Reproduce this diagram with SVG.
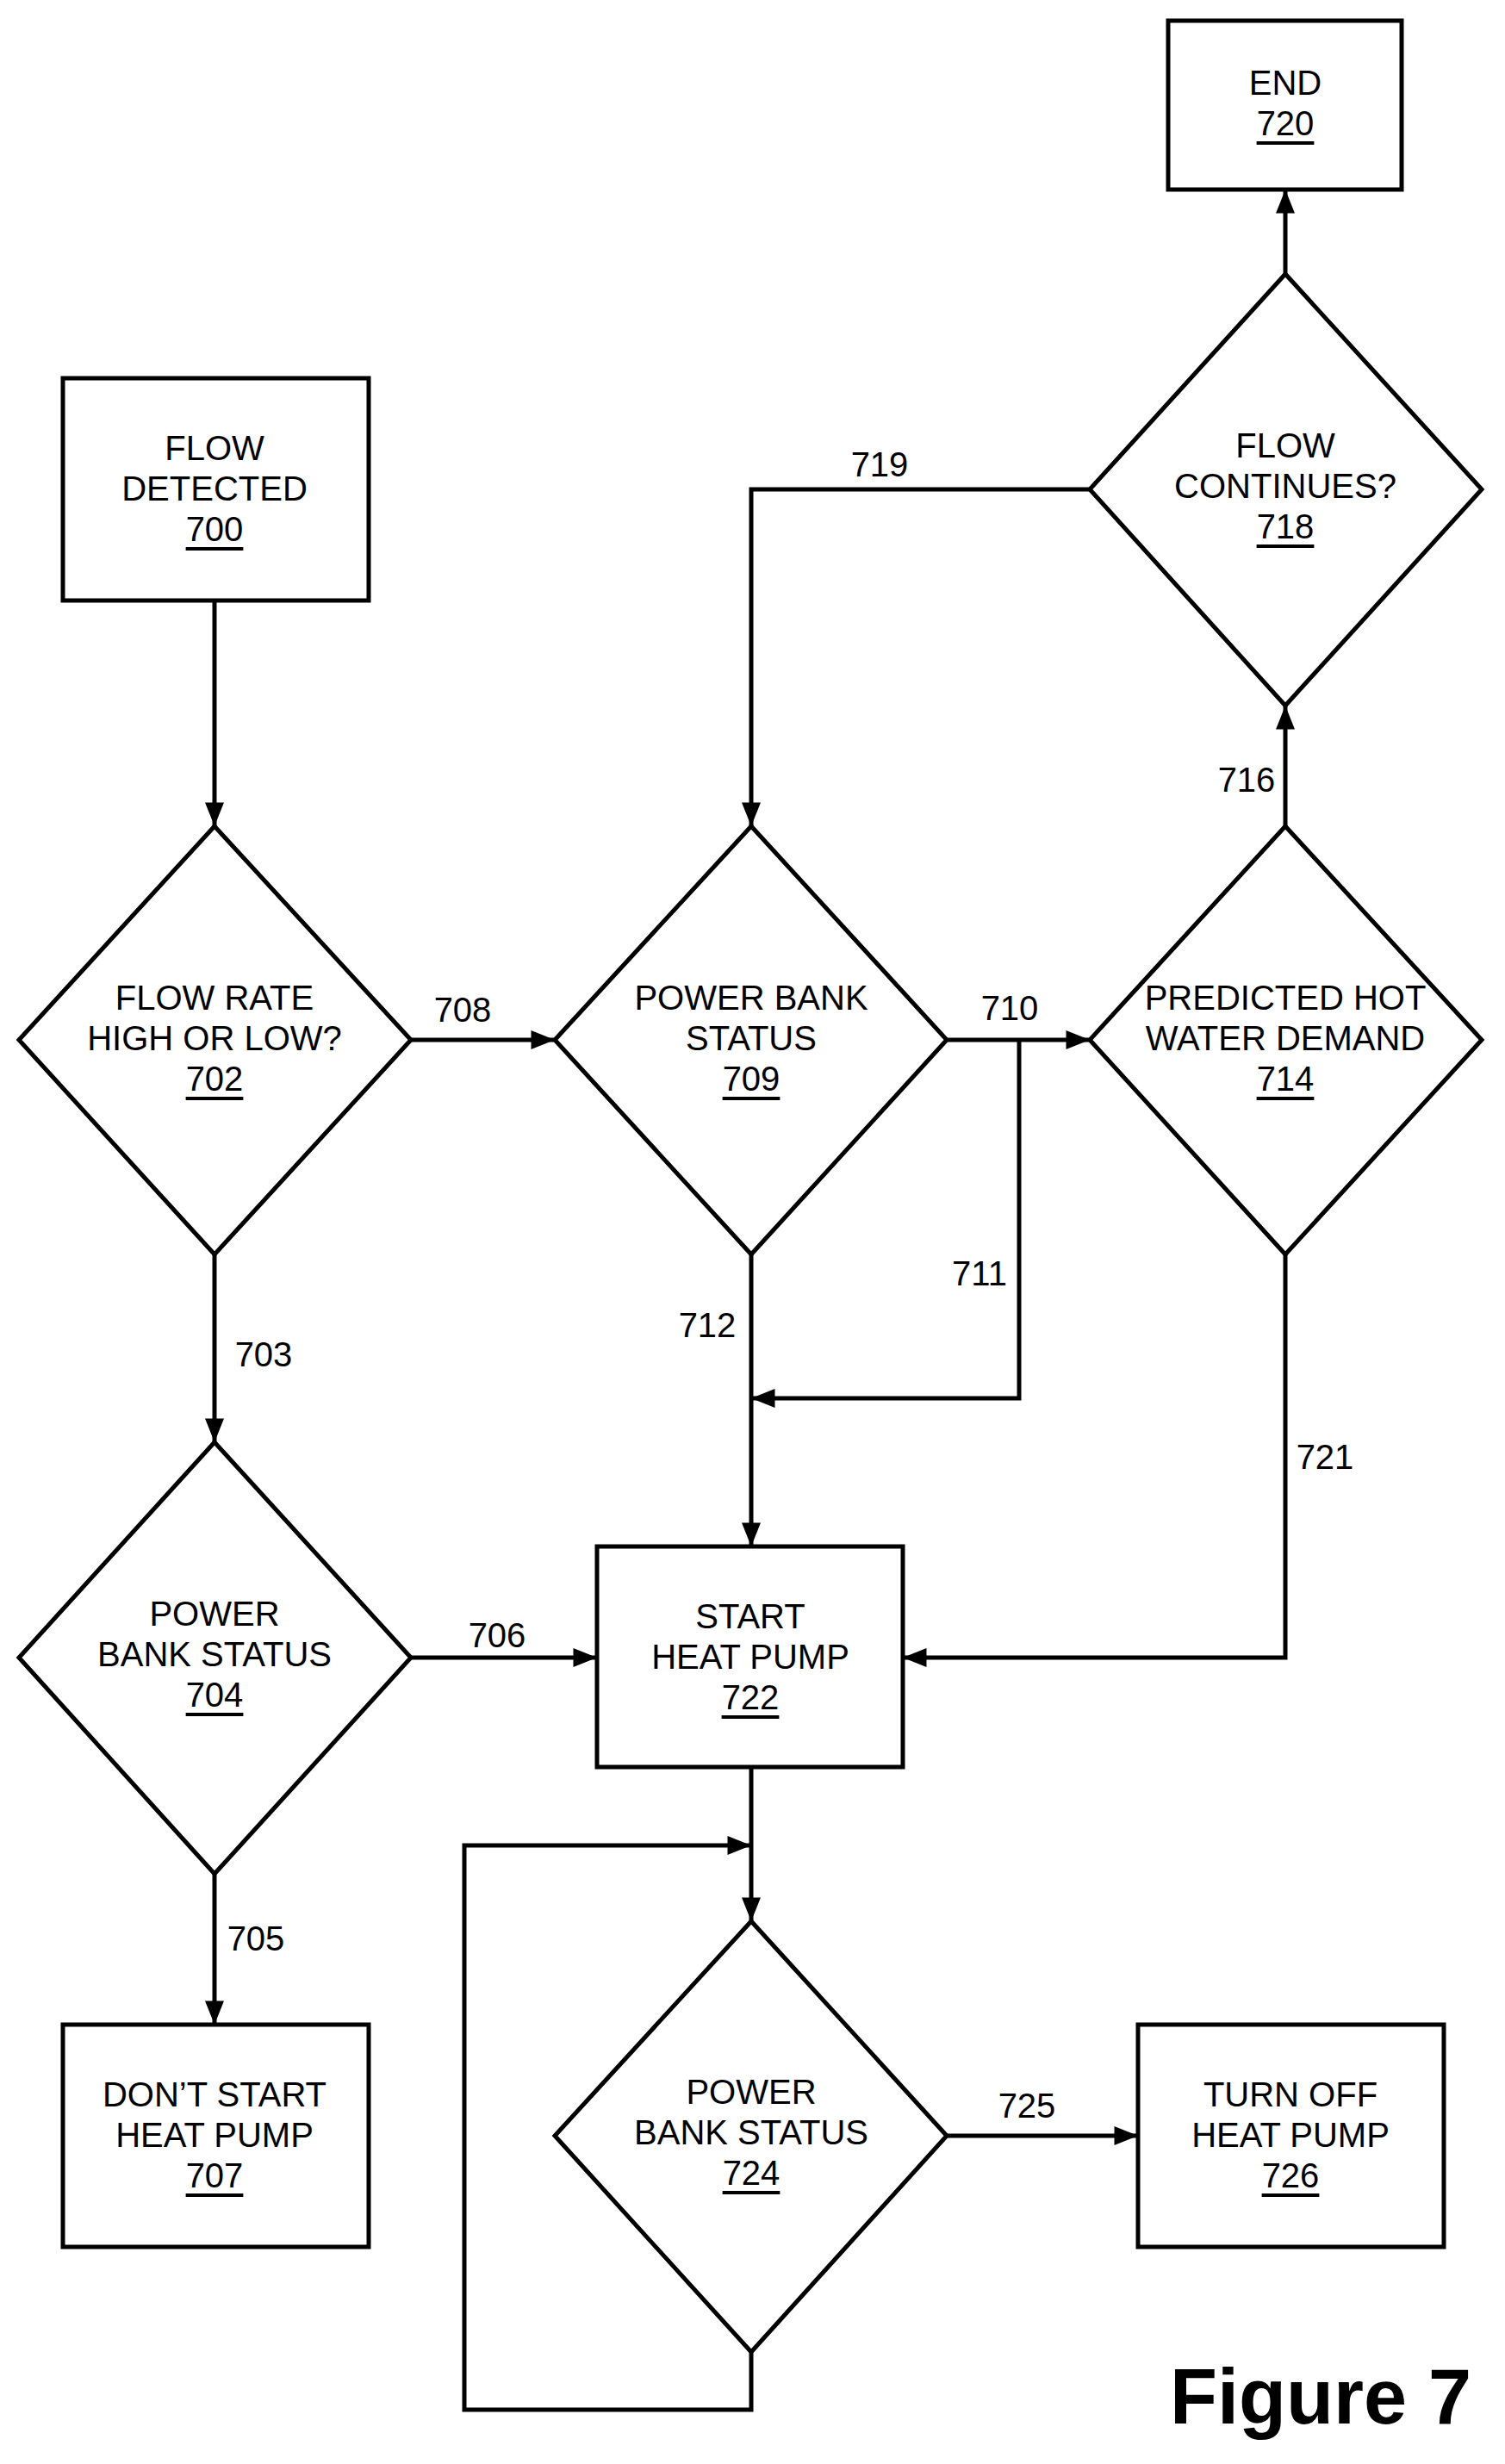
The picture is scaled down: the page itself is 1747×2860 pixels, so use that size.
<svg xmlns="http://www.w3.org/2000/svg" width="1747" height="2860" viewBox="0 0 1747 2860">
<style>
text{font-family:"Liberation Sans",Arial,sans-serif;font-size:40px;fill:#000;text-anchor:middle;dominant-baseline:central}
.n{text-decoration:underline}
.s{fill:#fff;stroke:#000;stroke-width:5}
.c{fill:none;stroke:#000;stroke-width:5}
</style>
<defs><marker id="a" markerWidth="10" markerHeight="8" refX="10" refY="4" orient="auto" markerUnits="userSpaceOnUse" viewBox="0 0 10 8"><path d="M0,0L10,4L0,8z"/></marker>
<marker id="b" viewBox="0 0 10 8" refX="10" refY="4" markerWidth="28" markerHeight="22" orient="auto" markerUnits="userSpaceOnUse"><path d="M0,0L10,4L0,8z"/></marker></defs>
<rect width="1747" height="2860" fill="#fff"/>
<g id="connectors">
<path class="c" d="M249,697V959" marker-end="url(#b)"/>
<path class="c" d="M477,1207H644" marker-end="url(#b)"/>
<path class="c" d="M1099,1207H1265" marker-end="url(#b)"/>
<path class="c" d="M1492,959V819" marker-end="url(#b)"/>
<path class="c" d="M1492,318V220" marker-end="url(#b)"/>
<path class="c" d="M1265,568H872V959" marker-end="url(#b)"/>
<path class="c" d="M249,1456V1674" marker-end="url(#b)"/>
<path class="c" d="M477,1924H693" marker-end="url(#b)"/>
<path class="c" d="M249,2175V2350" marker-end="url(#b)"/>
<path class="c" d="M872,1456V1795" marker-end="url(#b)"/>
<path class="c" d="M1183,1207V1623H872" marker-end="url(#b)"/>
<path class="c" d="M1492,1456V1924H1048" marker-end="url(#b)"/>
<path class="c" d="M872,2051V2230" marker-end="url(#b)"/>
<path class="c" d="M872,2730V2797H539V2142H872" marker-end="url(#b)"/>
<path class="c" d="M1099,2479H1321" marker-end="url(#b)"/>
<text x="537" y="1172">708</text><text x="437" y="1207">H</text><text x="251" y="1414">L</text>
<text x="306" y="1572">703</text><text x="577" y="1898">706</text><text x="437" y="1924">L</text>
<text x="251" y="2133">H</text><text x="297" y="2250">705</text>
<text x="1057" y="1207">H</text><text x="873" y="1414">L</text><text x="1172" y="1170">710</text>
<text x="1137" y="1478">711</text><text x="821" y="1538">712</text><text x="1538" y="1691">721</text>
<text x="1494" y="1012">L</text><text x="1494" y="1416">H</text><text x="1447" y="905">716</text>
<text x="1494" y="369">N</text><text x="1310" y="568">Y</text><text x="1021" y="539">719</text>
<text x="1056" y="2479">H</text><text x="873" y="2688">L</text><text x="1192" y="2444">725</text>
</g>
<g id="n700"><rect class="s" x="73" y="439" width="355" height="258"/><text x="249" y="520">FLOW</text><text x="249" y="567">DETECTED</text><text class="n" x="249" y="614">700</text></g>
<g id="n702"><path class="s" d="M249,959L477,1207L249,1456L22,1207z"/><text x="249" y="1158">FLOW RATE</text><text x="249" y="1205">HIGH OR LOW?</text><text class="n" x="249" y="1252">702</text></g>
<g id="n709"><path class="s" d="M872,959L1099,1207L872,1456L644,1207z"/><text x="872" y="1158">POWER BANK</text><text x="872" y="1205">STATUS</text><text class="n" x="872" y="1252">709</text></g>
<g id="n714"><path class="s" d="M1492,959L1720,1207L1492,1456L1265,1207z"/><text x="1492" y="1158">PREDICTED HOT</text><text x="1492" y="1205">WATER DEMAND</text><text class="n" x="1492" y="1252">714</text></g>
<g id="n718"><path class="s" d="M1492,318L1720,568L1492,819L1265,568z"/><text x="1492" y="517">FLOW</text><text x="1492" y="564">CONTINUES?</text><text class="n" x="1492" y="611">718</text></g>
<g id="n720"><rect class="s" x="1356" y="24" width="271" height="196"/><text x="1492" y="96">END</text><text class="n" x="1492" y="143">720</text></g>
<g id="n704"><path class="s" d="M249,1674L477,1924L249,2175L22,1924z"/><text x="249" y="1873">POWER</text><text x="249" y="1920">BANK STATUS</text><text class="n" x="249" y="1967">704</text></g>
<g id="n707"><rect class="s" x="73" y="2350" width="355" height="258"/><text x="249" y="2431">DON’T START</text><text x="249" y="2478">HEAT PUMP</text><text class="n" x="249" y="2525">707</text></g>
<g id="n722"><rect class="s" x="693" y="1795" width="355" height="256"/><text x="871" y="1876">START</text><text x="871" y="1923">HEAT PUMP</text><text class="n" x="871" y="1970">722</text></g>
<g id="n724"><path class="s" d="M872,2230L1099,2479L872,2730L644,2479z"/><text x="872" y="2428">POWER</text><text x="872" y="2475">BANK STATUS</text><text class="n" x="872" y="2522">724</text></g>
<g id="n726"><rect class="s" x="1321" y="2350" width="355" height="258"/><text x="1498" y="2431">TURN OFF</text><text x="1498" y="2478">HEAT PUMP</text><text class="n" x="1498" y="2525">726</text></g>
<text x="1533" y="2782" style="font-size:90px;font-weight:bold">Figure 7</text>
</svg>
